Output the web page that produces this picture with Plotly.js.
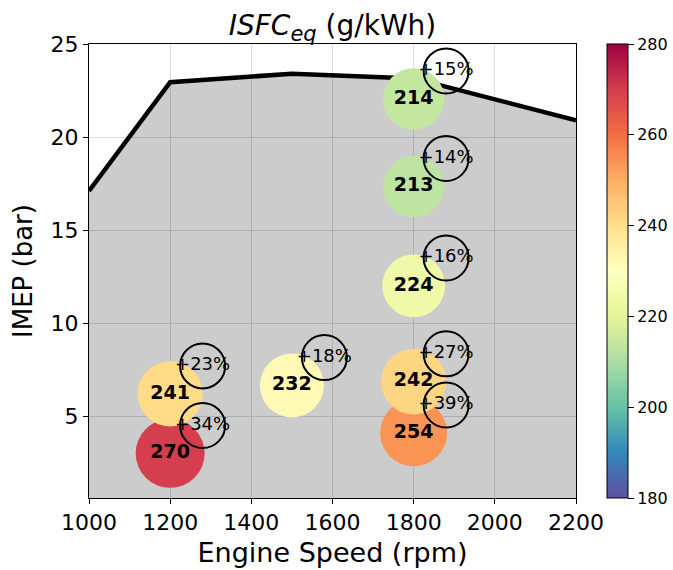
<!DOCTYPE html>
<html>
<head>
<meta charset="utf-8">
<script src="https://cdn.plot.ly/plotly-3.0.1.min.js"></script>
<style>html,body{margin:0;padding:0;background:#fff;}#chart{width:673px;height:570px;}</style>
</head>
<body>
<div id="chart"></div>
<script>
// Operating points
const speed = [1200, 1200, 1500, 1800, 1800, 1800, 1800, 1800];
const imep = [3.0, 6.2, 6.65, 4.1, 6.85, 12.0, 17.35, 22.05];
const isfc = [270, 241, 232, 254, 242, 224, 213, 214];
const pctIncrease = ['+34%', '+23%', '+18%', '+39%', '+27%', '+16%', '+14%', '+15%'];
// Full-load limit curve
const limitSpeed = [1000, 1200, 1500, 1800, 2200];
const limitImep = [17.1, 22.95, 23.4, 23.15, 20.9];
// Axis ticks
const xTicks = [1000, 1200, 1400, 1600, 1800, 2000, 2200];
const yTicks = [5, 10, 15, 20, 25];
const cTicks = [180, 200, 220, 240, 260, 280];

const spectral = ['#9e0142','#d53e4f','#f46d43','#fdae61','#fee08b','#ffffbf','#e6f598','#abdda4','#66c2a5','#3288bd','#5e4fa2'];
const spectralR = spectral.slice().reverse().map((c, i, a) => [i / (a.length - 1), c]);

const font = 'DejaVu Sans, sans-serif';
const dx = 80, dy = 1.5;

const traces = [
  {
    x: limitSpeed, y: limitImep, type: 'scatter', mode: 'lines',
    fill: 'tozeroy', fillcolor: 'rgba(0,0,0,0.2)',
    line: {color: '#000', width: 4.5}, hoverinfo: 'skip', showlegend: false
  },
  {
    x: speed, y: imep, type: 'scatter', mode: 'markers+text',
    text: isfc.map(String), textposition: 'middle center',
    textfont: {family: font, size: 19, color: '#000', weight: 'bold'},
    marker: {
      color: isfc, cmin: 180, cmax: 280, colorscale: spectralR,
      size: isfc.map(v => 4.2 * Math.sqrt(v)), opacity: 1, line: {width: 0},
      showscale: true,
      colorbar: {
        x: 1.0637, xanchor: 'left', xpad: 0, y: 0.5, yanchor: 'middle', ypad: 0,
        len: 1, lenmode: 'fraction', thickness: 21, thicknessmode: 'pixels',
        outlinewidth: 1, outlinecolor: '#000',
        ticks: 'outside', ticklen: 6, tickcolor: '#000', tickwidth: 1,
        tickvals: cTicks, tickfont: {family: font, size: 16, color: '#000'}
      }
    },
    showlegend: false
  },
  {
    x: speed.map(v => v + dx), y: imep.map(v => v + dy), type: 'scatter', mode: 'markers+text',
    text: pctIncrease, textposition: 'middle center',
    textfont: {family: font, size: 18, color: '#000'},
    marker: {symbol: 'circle-open', size: 45, color: '#000', line: {width: 2, color: '#000'}},
    showlegend: false
  }
];

const layout = {
  width: 673, height: 570,
  margin: {l: 89, r: 97, t: 44, b: 72, pad: 0, autoexpand: false},
  paper_bgcolor: '#fff', plot_bgcolor: '#fff',
  font: {family: font, color: '#000'},
  title: {
    text: '<i>ISFC<sub><span style="font-size:21px">eq</span></sub></i> (g/kWh)', font: {family: font, size: 28, color: '#000'},
    x: 0.5, xref: 'paper', xanchor: 'center', y: 1 - 25 / 570, yref: 'container', yanchor: 'middle'
  },
  xaxis: {
    range: [1000, 2200], tickvals: xTicks, ticks: 'outside', ticklen: 5, tickcolor: '#000',
    showline: true, linecolor: '#000', linewidth: 1, mirror: true,
    showgrid: true, gridcolor: '#dcdcdc', gridwidth: 1, zeroline: false,
    tickfont: {family: font, size: 22, color: '#000'},
    title: {text: 'Engine Speed (rpm)', font: {family: font, size: 27, color: '#000'}, standoff: 8}
  },
  yaxis: {
    range: [0.6, 25], tickvals: yTicks, ticks: 'outside', ticklen: 5, tickcolor: '#000',
    showline: true, linecolor: '#000', linewidth: 1, mirror: true,
    showgrid: true, gridcolor: '#dcdcdc', gridwidth: 1, zeroline: false,
    tickfont: {family: font, size: 22, color: '#000'},
    title: {text: 'IMEP (bar)', font: {family: font, size: 26, color: '#000'}, standoff: 10}
  }
};

Plotly.newPlot('chart', traces, layout, {displayModeBar: false, staticPlot: true});
</script>
</body>
</html>
